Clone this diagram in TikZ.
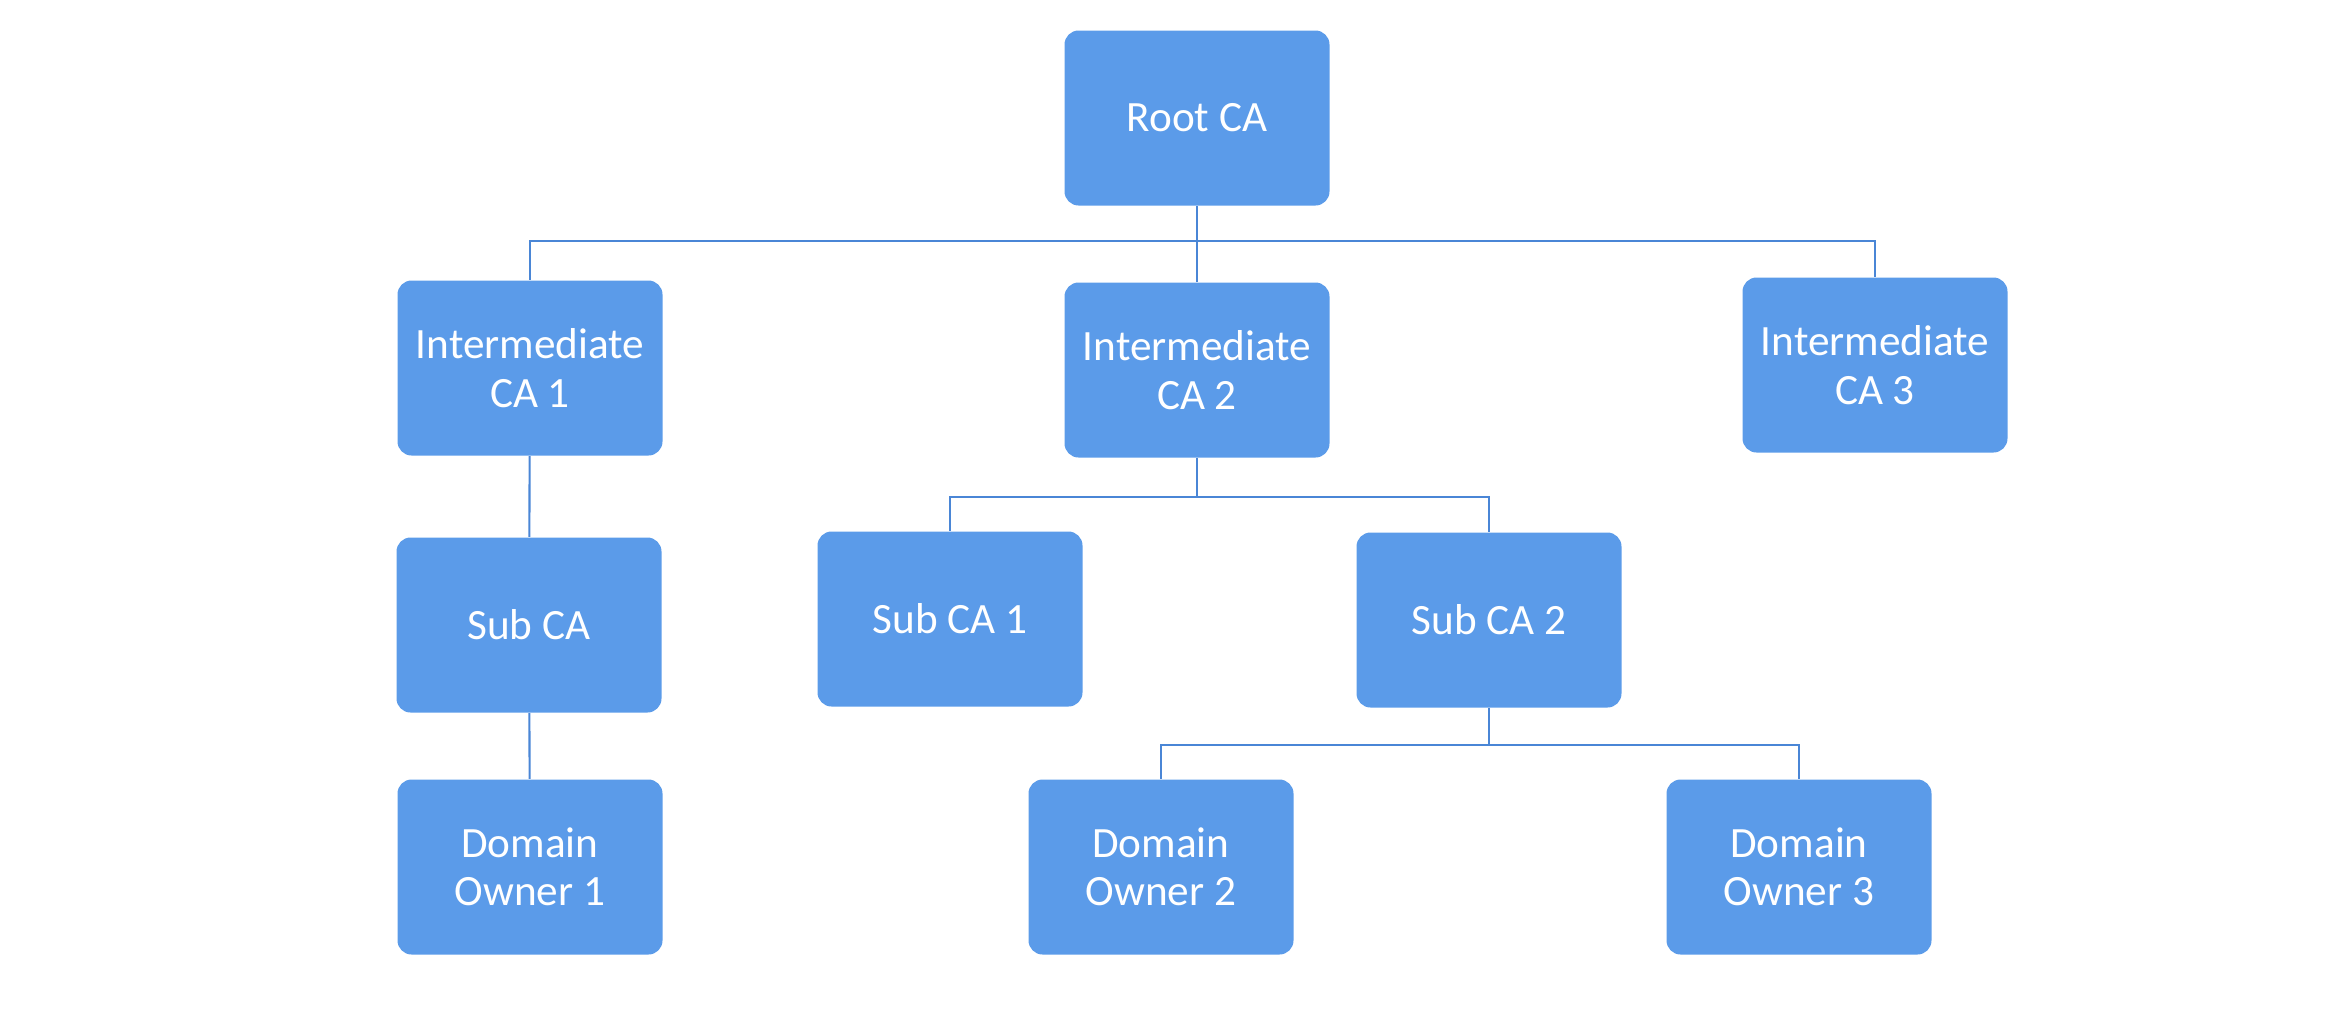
\documentclass[tikz,border=0pt]{standalone}
\usepackage{fontspec}
\setmainfont{Carlito}
\usepackage{xcolor}
\usepackage{tikz}
\usetikzlibrary{positioning}
\definecolor{cabox}{HTML}{5B9BE9}
\definecolor{caline}{HTML}{4A86D6}

\begin{document}
\begin{tikzpicture}[
  font=\fontsize{12.3}{13.8}\selectfont,
  cabox/.style={fill=cabox, draw=none, rounded corners=4pt, align=center,
                text=white, minimum width=2.65cm, minimum height=1.75cm, inner sep=2pt},
  link/.style={draw=caline, line width=0.6pt}
]
\useasboundingbox (0,0) rectangle (23.44,-10.24);
\node[cabox] (root) at (11.97,-1.18) {Root CA};
\node[cabox] (ica1) at (5.30,-3.68) {Intermediate\\CA 1};
\node[cabox] (ica2) at (11.97,-3.70) {Intermediate\\CA 2};
\node[cabox] (ica3) at (18.75,-3.65) {Intermediate\\CA 3};
\node[cabox] (sub) at (5.29,-6.25) {Sub CA};
\node[cabox] (sub1) at (9.50,-6.19) {Sub CA 1};
\node[cabox] (sub2) at (14.89,-6.20) {Sub CA 2};
\node[cabox] (dom1) at (5.30,-8.67) {Domain\\Owner 1};
\node[cabox] (dom2) at (11.61,-8.67) {Domain\\Owner 2};
\node[cabox] (dom3) at (17.99,-8.67) {Domain\\Owner 3};
\draw[link] (root.south) -- ++(0,-0.35) -| (ica1.north);
\draw[link] (root.south) -- ++(0,-0.35) -| (ica2.north);
\draw[link] (root.south) -- ++(0,-0.35) -| (ica3.north);
\draw[link] (ica1) -- (sub);
\draw[link] (sub) -- (dom1);
\draw[link] (ica2.south) -- ++(0,-0.39) -| (sub1.north);
\draw[link] (ica2.south) -- ++(0,-0.39) -| (sub2.north);
\draw[link] (sub2.south) -- ++(0,-0.37) -| (dom2.north);
\draw[link] (sub2.south) -- ++(0,-0.37) -| (dom3.north);
\end{tikzpicture}
\end{document}
